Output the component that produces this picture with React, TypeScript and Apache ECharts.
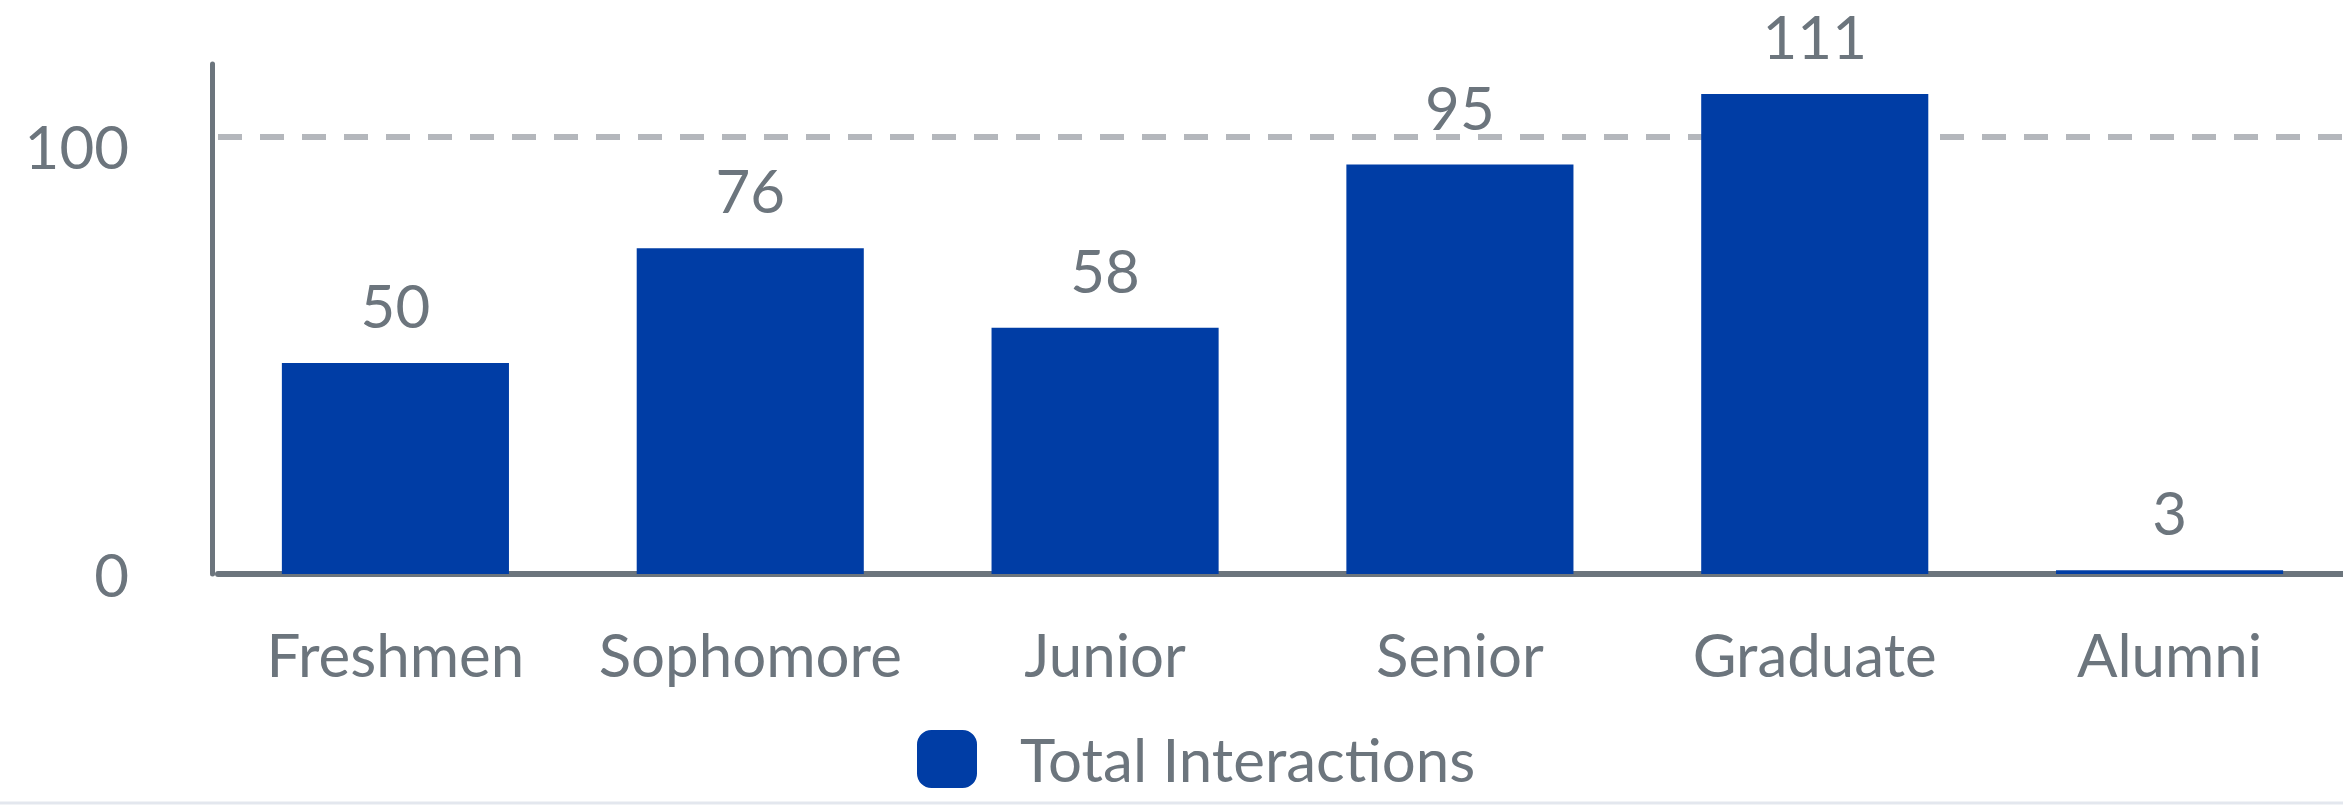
import React, { useEffect, useRef } from "react";
import * as echarts from "echarts";

const categories = ["Freshmen", "Sophomore", "Junior", "Senior", "Graduate", "Alumni"];
const totalInteractions = [50, 76, 58, 95, 111, 3];
const seriesName = "Total Interactions";
const yTicks = [0, 100];

const TEXT = "#6c757d";
const BAR = "#003da5";
const FONT = "Lato, 'Noto Sans', sans-serif";

export default function App() {
  const ref = useRef<HTMLDivElement>(null);
  useEffect(() => {
    document.body.style.margin = "0";
    const chart = echarts.init(ref.current!, undefined, { renderer: "svg" });
    chart.setOption({
      animation: false,
      backgroundColor: "#ffffff",
      textStyle: { fontFamily: FONT },
      grid: { left: 218, right: -4, top: 64, bottom: 231, containLabel: false, outerBoundsMode: "none" },
      legend: {
        data: [seriesName],
        left: 917,
        top: 729,
        padding: 0,
        itemWidth: 60,
        itemHeight: 58,
        icon: "roundRect",
        selectedMode: false,
        textStyle: { color: TEXT, fontSize: 60, fontFamily: FONT, padding: [0, 0, 0, 38] },
      },
      xAxis: {
        type: "category",
        data: categories,
        offset: 2,
        axisLine: { show: true, lineStyle: { color: TEXT, width: 6 } },
        axisTick: { show: false },
        axisLabel: { color: TEXT, fontSize: 60, fontFamily: FONT, margin: 48, interval: 0 },
        splitLine: { show: false },
      },
      yAxis: [
        {
          type: "value",
          min: 0,
          max: 116.6,
          interval: 100,
          offset: 5.5,
          axisLine: { show: true, lineStyle: { color: TEXT, width: 5 } },
          axisTick: { show: false },
          axisLabel: {
            color: TEXT,
            fontSize: 60,
            fontFamily: FONT,
            margin: 83.5,
            showMaxLabel: false,
            formatter: (v: number) =>
              yTicks.includes(v) ? (v === 0 ? "{n|" + v + "}" : "{lo|" + v + "}") : "",
            rich: {
              n: { color: TEXT, fontSize: 60, fontFamily: FONT },
              lo: { color: TEXT, fontSize: 60, fontFamily: FONT, padding: [18, 0, 0, 0] },
            },
          },
          splitLine: {
            show: true,
            showMinLine: false,
            showMaxLine: false,
            lineStyle: { color: "#b4b7bc", width: 6, type: [24, 18] },
          },
        },
        {
          type: "value",
          show: false,
          min: 2.13,
          max: 117.8,
          splitLine: { show: false },
        },
      ],
      series: [
        {
          name: seriesName,
          type: "bar",
          yAxisIndex: 1,
          data: totalInteractions,
          barWidth: "64%",
          itemStyle: { color: BAR },
          label: {
            show: true,
            position: "top",
            distance: 28,
            color: TEXT,
            fontSize: 60,
            fontFamily: FONT,
          },
        },
      ],
      graphic: [
        {
          type: "line",
          shape: { x1: 0, y1: 803, x2: 2343, y2: 803 },
          style: { stroke: "#e3e7ee", lineWidth: 3 },
          silent: true,
        },
      ],
    });
    return () => chart.dispose();
  }, []);
  return <div ref={ref} style={{ position: "fixed", left: 0, top: 0, width: 2343, height: 805 }} />;
}
